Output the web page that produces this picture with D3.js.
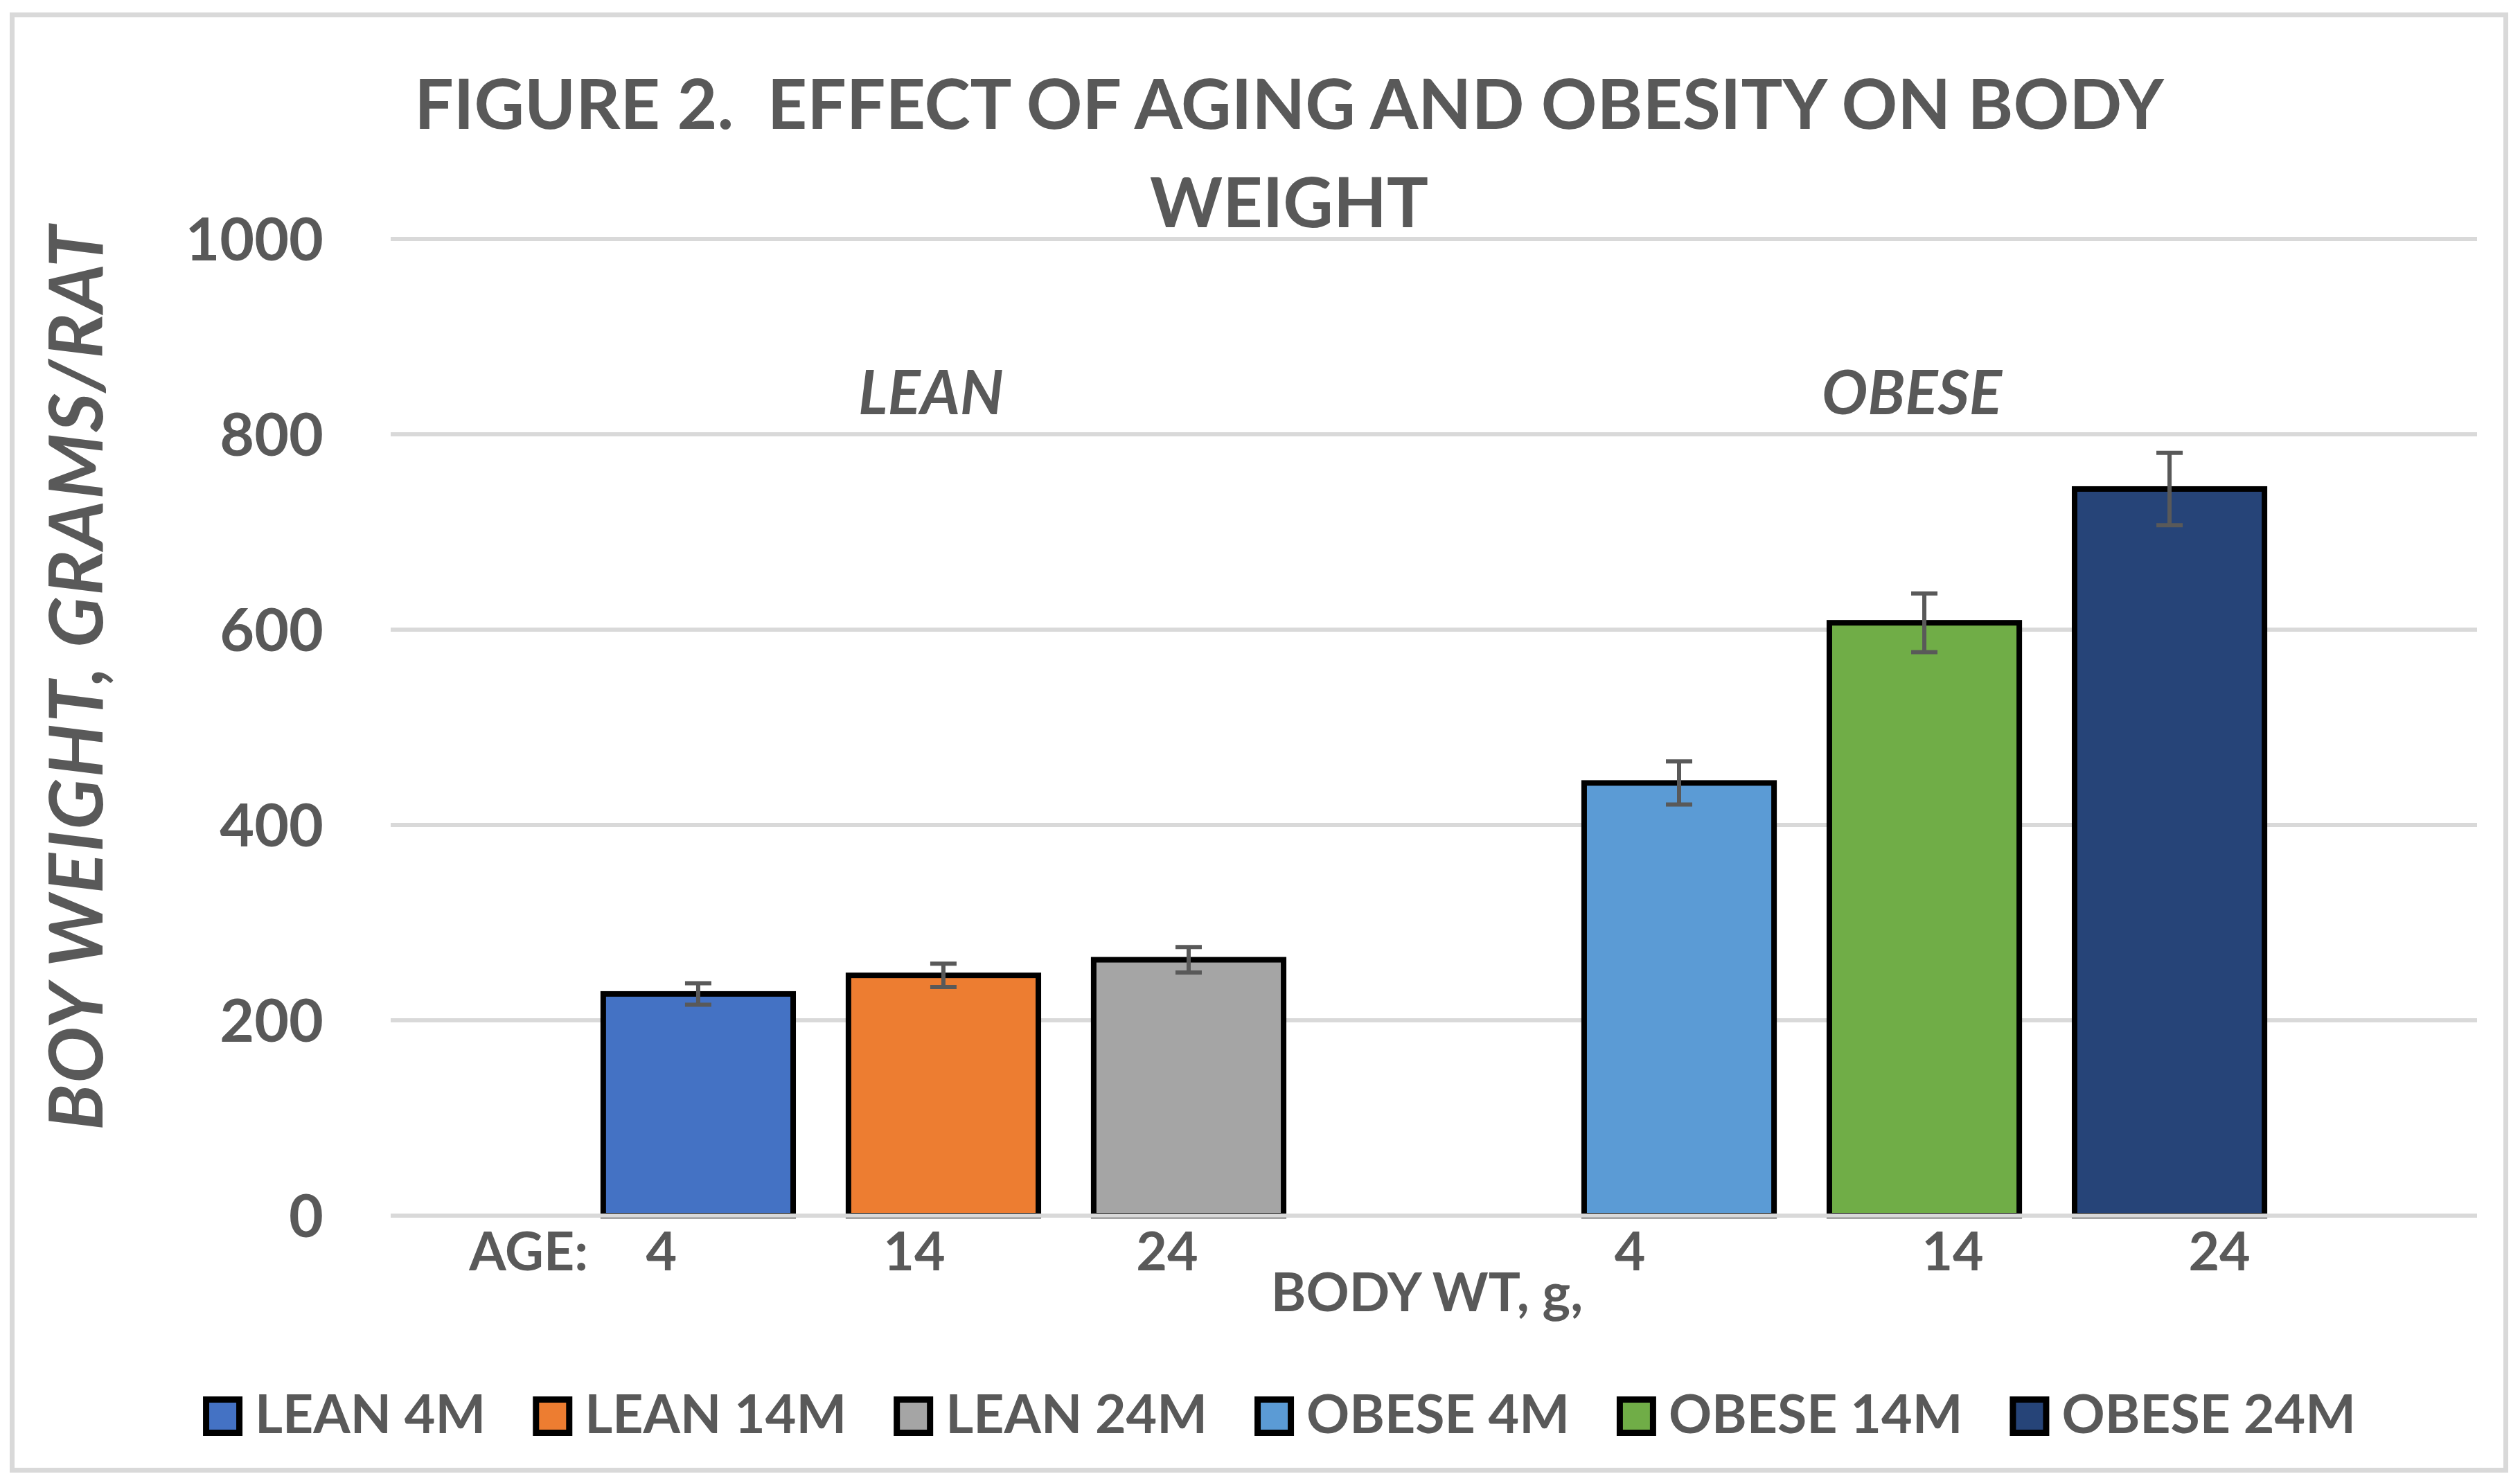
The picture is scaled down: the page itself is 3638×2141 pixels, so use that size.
<!DOCTYPE html>
<html>
<head>
<meta charset="utf-8">
<script src="https://cdnjs.cloudflare.com/ajax/libs/d3/7.8.5/d3.min.js"></script>
<style>
  body { margin: 0; background: #fff; }
  text { font-family: Lato, "Open Sans", sans-serif; font-weight: bold; fill: #595959; }
</style>
</head>
<body>
<div id="vis"></div>
<script>

// chart data
var seriesNames = ['LEAN 4M', 'LEAN 14M', 'LEAN 24M', 'OBESE 4M', 'OBESE 14M', 'OBESE 24M'];
var groupNames = ['LEAN', 'OBESE'];
var ageLabels = ['4', '14', '24', '4', '14', '24'];
var bodyWeight = [227, 246, 262, 443, 607, 744];
var bodyWeightErr = [11, 12, 13, 22, 30, 37];
var barColors = ['#4472C4', '#ED7D31', '#A5A5A5', '#5B9BD5', '#70AD47', '#264478'];
var yTicks = [0, 200, 400, 600, 800, 1000];

// layout
var width = 3638;
var height = 2141;
var plot = { left: 564, right: 3576, top: 345, bottom: 1755 };
var textColor = '#595959';
var gridColor = '#D9D9D9';
var barStroke = 8;
// the age labels sit in a hand placed text box, not exactly under the bars
var ageNudge = [-53, -42, -31, -71, 41, 72];

// one blank slot between the lean and obese groups
var slots = ['L4', 'L14', 'L24', 'gap', 'O4', 'O14', 'O24'];
var slotOf = [0, 1, 2, 4, 5, 6];

var svg = d3.select('#vis').append('svg')
  .attr('width', width)
  .attr('height', height);

svg.append('rect')
  .attr('x', 0).attr('y', 0)
  .attr('width', width).attr('height', height)
  .attr('fill', '#fff');

// chart border
svg.append('rect')
  .attr('x', 17.5).attr('y', 21.5)
  .attr('width', 3600).attr('height', 2101)
  .attr('fill', 'none')
  .attr('stroke', gridColor)
  .attr('stroke-width', 7);

var x = d3.scaleBand()
  .domain(slots)
  .range([plot.left, plot.right])
  .paddingInner(0.203)
  .paddingOuter(0.8555);

var y = d3.scaleLinear()
  .domain([0, 1000])
  .range([plot.bottom, plot.top]);

function barX(i) { return x(slots[slotOf[i]]); }
function barMid(i) { return barX(i) + x.bandwidth() / 2; }

// title
var title = svg.append('text')
  .attr('text-anchor', 'middle')
  .style('font-size', '100px');
title.append('tspan').attr('x', 1861).attr('y', 186)
  .text('FIGURE 2.\u00a0 EFFECT OF AGING AND OBESITY ON BODY');
title.append('tspan').attr('x', 1861).attr('y', 328)
  .text('WEIGHT');

// gridlines
svg.append('g')
  .selectAll('line')
  .data(yTicks.filter(function (d) { return d > 0; }))
  .join('line')
  .attr('x1', plot.left).attr('x2', plot.right)
  .attr('y1', function (d) { return y(d); })
  .attr('y2', function (d) { return y(d); })
  .attr('stroke', gridColor)
  .attr('stroke-width', 6);

// y axis tick labels
svg.append('g')
  .selectAll('text')
  .data(yTicks)
  .join('text')
  .attr('x', 467)
  .attr('y', function (d) { return y(d); })
  .attr('dy', '0.36em')
  .attr('text-anchor', 'end')
  .style('font-size', '86px')
  .text(function (d) { return d; });

// y axis title
svg.append('text')
  .attr('transform', 'translate(148,978) rotate(-90)')
  .attr('text-anchor', 'middle')
  .style('font-size', '108px')
  .style('letter-spacing', '2px')
  .style('font-style', 'italic')
  .text('BOY WEIGHT, GRAMS/RAT');

// bars
svg.append('g')
  .selectAll('rect')
  .data(bodyWeight)
  .join('rect')
  .attr('x', function (d, i) { return barX(i) + barStroke / 2; })
  .attr('y', function (d) { return y(d); })
  .attr('width', x.bandwidth() - barStroke)
  .attr('height', function (d) { return y(0) - y(d); })
  .attr('fill', function (d, i) { return barColors[i]; })
  .attr('stroke', '#000')
  .attr('stroke-width', barStroke);

// horizontal axis line drawn over the bar bottoms
svg.append('line')
  .attr('x1', plot.left).attr('x2', plot.right)
  .attr('y1', y(0)).attr('y2', y(0))
  .attr('stroke', gridColor)
  .attr('stroke-width', 6);

// error bars
var err = svg.append('g')
  .attr('stroke', textColor)
  .attr('stroke-width', 6)
  .selectAll('g')
  .data(bodyWeight)
  .join('g');

err.append('line')
  .attr('x1', function (d, i) { return barMid(i); })
  .attr('x2', function (d, i) { return barMid(i); })
  .attr('y1', function (d, i) { return y(d + bodyWeightErr[i]); })
  .attr('y2', function (d, i) { return y(d - bodyWeightErr[i]); });

[1, -1].forEach(function (sign) {
  err.append('line')
    .attr('x1', function (d, i) { return barMid(i) - 19; })
    .attr('x2', function (d, i) { return barMid(i) + 19; })
    .attr('y1', function (d, i) { return y(d + sign * bodyWeightErr[i]); })
    .attr('y2', function (d, i) { return y(d + sign * bodyWeightErr[i]); });
});

// group labels above the bars
svg.append('g')
  .selectAll('text')
  .data(groupNames)
  .join('text')
  .attr('x', function (d, i) { return barMid(i * 3 + 1) - 18; })
  .attr('y', 598)
  .attr('text-anchor', 'middle')
  .style('font-size', '88px')
  .style('font-style', 'italic')
  .text(function (d) { return d; });

// age labels under the axis
svg.append('text')
  .attr('x', 849)
  .attr('y', 1834)
  .attr('text-anchor', 'end')
  .style('font-size', '77px')
  .text('AGE:');

svg.append('g')
  .selectAll('text')
  .data(ageLabels)
  .join('text')
  .attr('x', function (d, i) { return barMid(i) + ageNudge[i]; })
  .attr('y', 1834)
  .attr('text-anchor', 'middle')
  .style('font-size', '77px')
  .text(function (d) { return d; });

// x axis title
svg.append('text')
  .attr('x', (plot.left + plot.right) / 2 - 10)
  .attr('y', 1893)
  .attr('text-anchor', 'middle')
  .style('font-size', '77px')
  .text('BODY WT, g,');

// legend
var legend = svg.append('g');
var swatch = 57;
var itemGap = 68;
var cursor = 0;
seriesNames.forEach(function (name, i) {
  var item = legend.append('g').attr('transform', 'translate(' + cursor + ',0)');
  item.append('rect')
    .attr('x', 4.5).attr('y', 2016 + 4.5)
    .attr('width', swatch - 9).attr('height', swatch - 9)
    .attr('fill', barColors[i])
    .attr('stroke', '#000')
    .attr('stroke-width', 9);
  var t = item.append('text')
    .attr('x', swatch + 18)
    .attr('y', 2069)
    .style('font-size', '77px')
    .text(name);
  cursor += swatch + 18 + t.node().getComputedTextLength() + itemGap;
});
var legendWidth = cursor - itemGap;
legend.attr('transform', 'translate(' + (1847 - legendWidth / 2) + ',0)');

</script>
</body>
</html>
